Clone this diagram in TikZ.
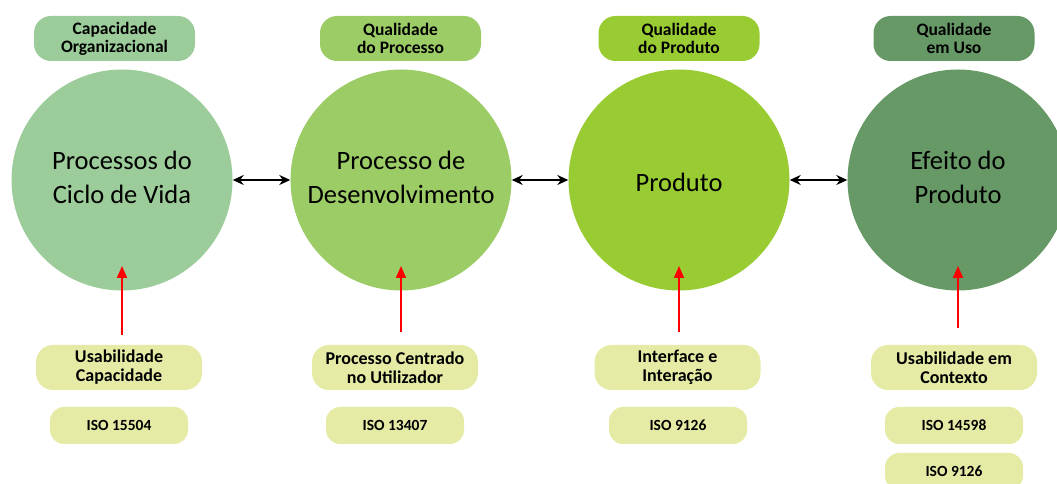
\documentclass[tikz,border=0pt]{standalone}
\usepackage{fontspec}
\setmainfont{Carlito}
\usetikzlibrary{arrows.meta}
\definecolor{cA}{RGB}{155,204,153}
\definecolor{cB}{RGB}{156,204,102}
\definecolor{cC}{RGB}{153,204,51}
\definecolor{cD}{RGB}{102,153,102}
\definecolor{cY}{RGB}{229,235,165}
\tikzset{
  circ/.style={circle, minimum size=221pt, inner sep=0pt},
  circtext/.style={align=center, inner sep=0pt, font=\fontsize{26.5}{34}\selectfont},
  toplab/.style={rounded corners=17pt, minimum width=161pt, minimum height=45pt,
    inner sep=0pt, align=center, font=\fontsize{17.5}{18}\selectfont\bfseries},
  botlab/.style={fill=cY, rounded corners=17pt, minimum width=166pt, minimum height=45pt,
    inner sep=0pt, align=center, font=\fontsize{18}{19}\selectfont\bfseries},
  isolab/.style={fill=cY, rounded corners=14pt, minimum width=138pt, minimum height=37pt,
    inner sep=0pt, align=center, font=\fontsize{15.5}{17}\selectfont\bfseries},
  dbl/.style={{Stealth[length=11pt,width=10pt]}-{Stealth[length=11pt,width=10pt]}, line width=2pt, black},
  redarr/.style={-{Triangle[length=12pt,width=10pt]}, line width=1.8pt, red},
}
\begin{document}
\begin{tikzpicture}[x=1pt,y=1pt]
\useasboundingbox (0,0) rectangle (1057,484);
\clip (0,0) rectangle (1057,484);
% circles
\node[circ, fill=cA] (c1) at (122,304) {};
\node[circ, fill=cB] (c2) at (401,304) {};
\node[circ, fill=cC] (c3) at (679,304) {};
\node[circ, fill=cD] (c4) at (958,304) {};
\node[circtext] (ct1) at (122,307) {Processos do\\Ciclo de Vida};
\node[circtext] (ct2) at (401,307) {Processo de\\Desenvolvimento};
\node[circtext] (ct3) at (679,302) {Produto};
\node[circtext] (ct4) at (958,307) {Efeito do\\Produto};
% top labels
\node[toplab, fill=cA] (t1) at (114.5,445.5) {Capacidade\\Organizacional};
\node[toplab, fill=cB] (t2) at (400.5,445.5) {Qualidade\\do Processo};
\node[toplab, fill=cC] (t3) at (679,445.5) {Qualidade\\do Produto};
\node[toplab, fill=cD] (t4) at (954,445.5) {Qualidade\\em Uso};
% bottom labels
\node[botlab] (b1) at (119,116.5) {Usabilidade\\Capacidade};
\node[botlab] (b2) at (395,116.5) {Processo Centrado\\no Utilizador};
\node[botlab] (b3) at (677.5,116.5) {Interface e\\Interação};
\node[botlab] (b4) at (954,116.5) {Usabilidade em\\Contexto};
\node[isolab] (i1) at (119,58.5) {ISO 15504};
\node[isolab] (i2) at (395,58.5) {ISO 13407};
\node[isolab] (i3) at (678,58.5) {ISO 9126};
\node[isolab] (i4) at (954,58.5) {ISO 14598};
\node[isolab] (i5) at (954,12.5) {ISO 9126};
% double arrows
\draw[dbl] (c1) -- (c2);
\draw[dbl] (c2) -- (c3);
\draw[dbl] (c3) -- (c4);
% red arrows
\coordinate (r1s) at (122,149); \coordinate (r1e) at (122,218);
\coordinate (r2s) at (401,152); \coordinate (r2e) at (401,218);
\coordinate (r3s) at (679,152); \coordinate (r3e) at (679,218);
\coordinate (r4s) at (958,156); \coordinate (r4e) at (958,218);
\draw[redarr] (r1s) -- (r1e);
\draw[redarr] (r2s) -- (r2e);
\draw[redarr] (r3s) -- (r3e);
\draw[redarr] (r4s) -- (r4e);
\end{tikzpicture}
\end{document}
